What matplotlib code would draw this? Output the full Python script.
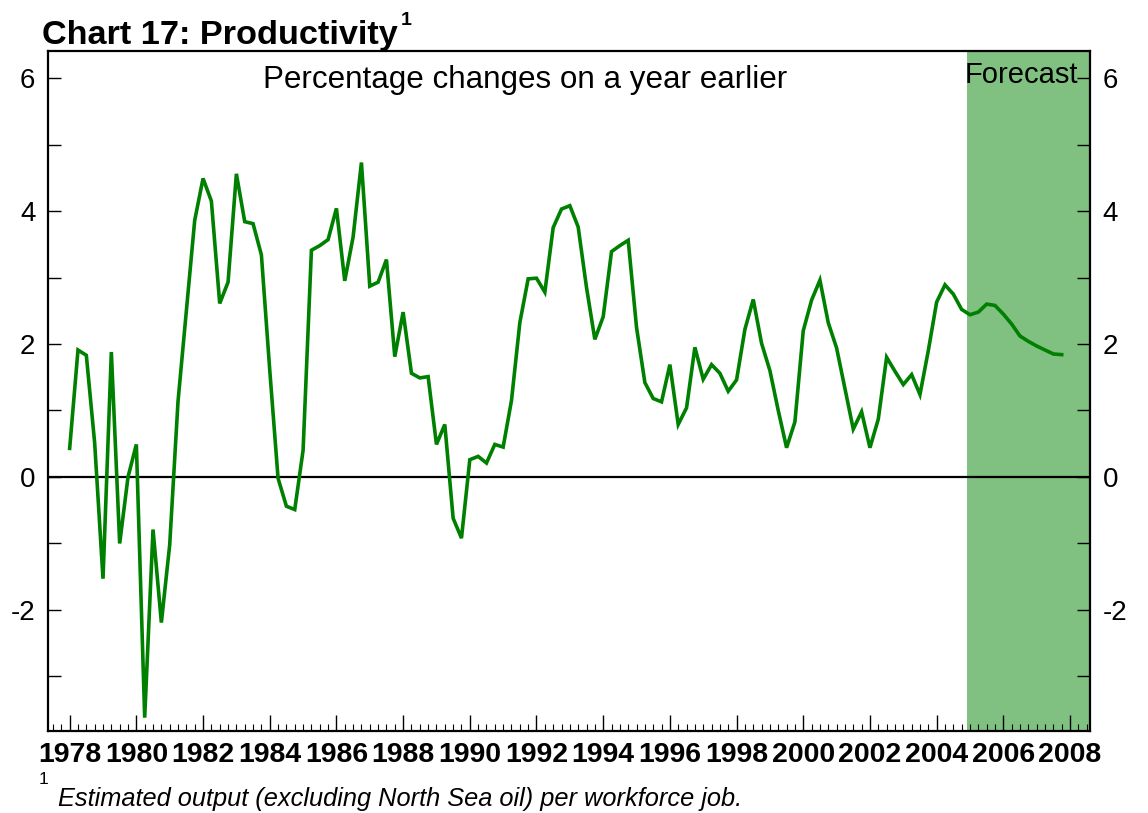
import numpy as np
import matplotlib
matplotlib.use("Agg")
from matplotlib import pyplot as plt
from matplotlib.ticker import FixedLocator, MultipleLocator

plt.rcParams['font.family'] = ['Liberation Sans', 'DejaVu Sans']

# quarterly productivity growth, % change on a year earlier (1978 Q1 - 2007 Q4)
start_year = 1978
growth = [
    0.43, 1.91, 1.83, 0.51,     # 1978
    -1.53, 1.88, -1.00, 0.00,   # 1979
    0.49, -3.62, -0.79, -2.19,  # 1980
    -1.02, 1.14, 2.50, 3.86,    # 1981
    4.49, 4.15, 2.61, 2.93,     # 1982
    4.56, 3.84, 3.81, 3.34,     # 1983
    1.61, -0.02, -0.44, -0.49,  # 1984
    0.40, 3.41, 3.48, 3.57,     # 1985
    4.04, 2.95, 3.61, 4.73,     # 1986
    2.87, 2.93, 3.27, 1.81,     # 1987
    2.48, 1.56, 1.49, 1.51,     # 1988
    0.49, 0.79, -0.62, -0.92,   # 1989
    0.26, 0.31, 0.21, 0.49,     # 1990
    0.45, 1.15, 2.32, 2.98,     # 1991
    2.99, 2.78, 3.75, 4.03,     # 1992
    4.08, 3.76, 2.85, 2.07,     # 1993
    2.41, 3.39, 3.48, 3.56,     # 1994
    2.25, 1.42, 1.18, 1.13,     # 1995
    1.69, 0.79, 1.04, 1.95,     # 1996
    1.47, 1.69, 1.56, 1.29,     # 1997
    1.46, 2.22, 2.67, 2.01,     # 1998
    1.60, 1.00, 0.44, 0.83,     # 1999
    2.20, 2.66, 2.96, 2.32,     # 2000
    1.94, 1.33, 0.72, 0.98,     # 2001
    0.44, 0.87, 1.80, 1.59,     # 2002
    1.39, 1.54, 1.24, 1.90,     # 2003
    2.63, 2.89, 2.75, 2.52,     # 2004
    2.44, 2.48, 2.60, 2.58,     # 2005
    2.45, 2.30, 2.12, 2.04,     # 2006
    1.97, 1.91, 1.85, 1.84,     # 2007
]
dates = start_year + np.arange(len(growth)) / 4.0

forecast_start = 2004.92
year_labels = list(range(1978, 2009, 2))
y_labels = [-2, 0, 2, 4, 6]

green = '#008000'
shade = '#80c080'

fig = plt.figure(figsize=(11.48, 8.13), dpi=100)
ax = fig.add_axes([0.0418, 0.1009, 0.9077, 0.8358])

x_lo, x_hi = 1977.35, 2008.6
ax.set_xlim(x_lo, x_hi)
ax.set_ylim(-3.82, 6.4)

ax.axvspan(forecast_start, x_hi + 1, color=shade, lw=0, zorder=0)
ax.axhline(0, color='black', lw=1.6, zorder=1)
ax.plot(dates, growth, color=green, lw=2.6, zorder=3, solid_joinstyle='miter')

ax.xaxis.set_major_locator(FixedLocator(year_labels))
ax.xaxis.set_minor_locator(MultipleLocator(0.25))
ax.set_xticklabels([str(y) for y in year_labels], fontweight='bold', fontsize=20.5)
ax.tick_params(axis='x', which='major', direction='in', length=11.5, width=1.0, pad=8)
ax.tick_params(axis='x', which='minor', direction='in', length=5, width=0.8)

ax.yaxis.set_major_locator(FixedLocator(y_labels))
ax.yaxis.set_minor_locator(FixedLocator([-3, -1, 1, 3, 5]))
ax.set_yticklabels([str(v) for v in y_labels], fontsize=20)
ax.tick_params(axis='y', which='both', direction='in', length=9.5, width=1.0,
               left=True, right=True, labelleft=True, labelright=True, pad=9)

for s in ax.spines.values():
    s.set_linewidth(1.6)
    s.set_color('black')

ax.text(0.458, 0.958, 'Percentage changes on a year earlier', transform=ax.transAxes,
        ha='center', va='center', fontsize=22.6)
ax.text(0.934, 0.966, 'Forecast', transform=ax.transAxes,
        ha='center', va='center', fontsize=21)

fig.text(0.0366, 0.946, 'Chart 17: Productivity', fontsize=24.7, fontweight='bold',
         ha='left', va='baseline')
fig.text(0.3535, 0.975, '1', fontsize=14, fontweight='bold', ha='center', va='center')

fig.text(0.0375, 0.0505, '1', fontsize=12.5, ha='center', va='top')
fig.text(0.0505, 0.009, 'Estimated output (excluding North Sea oil) per workforce job.',
         fontsize=18.3, fontstyle='italic', ha='left', va='baseline')

fig.savefig('out.png', dpi=100)
